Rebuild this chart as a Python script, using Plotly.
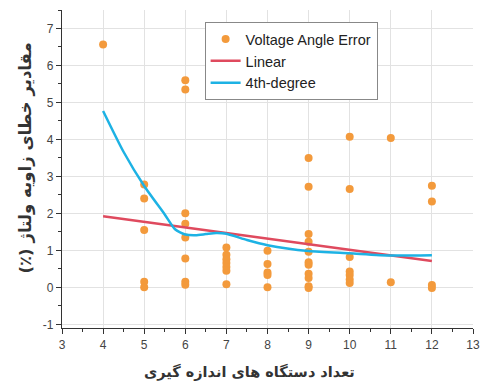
import plotly.graph_objects as go

# Measured voltage-angle errors (%) grouped by number of measuring devices
devices = [4, 5, 6, 7, 8, 9, 10, 11, 12]
errors = [
    [6.57],
    [2.78, 2.40, 1.55, 0.15, 0.0],
    [5.60, 5.35, 2.00, 1.72, 1.35, 0.78, 0.15, 0.07],
    [1.08, 0.88, 0.76, 0.66, 0.55, 0.45, 0.08],
    [0.99, 0.63, 0.40, 0.33, 0.0],
    [3.50, 2.72, 1.44, 1.23, 0.96, 0.68, 0.61, 0.37, 0.25, 0.03, -0.02],
    [4.07, 2.66, 0.82, 0.43, 0.33, 0.21, 0.12],
    [4.04, 0.14],
    [2.75, 2.32, 0.06, -0.02],
]

# Linear trend
lin_x = [4, 12]
lin_y = [1.92, 0.71]

# 4th-degree trend
poly_x = [4, 4.5, 5, 5.5, 5.75, 6, 6.25, 6.5, 6.75, 7, 7.5, 8, 9, 10, 11, 12]
poly_y = [4.77, 3.66, 2.74, 1.97, 1.57, 1.43, 1.41, 1.44, 1.47, 1.45, 1.28, 1.14, 0.98, 0.92, 0.86, 0.87]

y_ticks = [-1, 0, 1, 2, 3, 4, 5, 6, 7]
y_tick_text = ["-1", "0", "1", "2", "3", "4", "5", "6", "7"]
x_ticks = list(range(3, 14))

x_title = "تعداد دستگاه های اندازه گیری"
y_title = "(٪) مقادیر خطای زاویه ولتاژ"

pts_x = [d for d, vals in zip(devices, errors) for _ in vals]
pts_y = [v for vals in errors for v in vals]

fig = go.Figure()
fig.add_trace(go.Scatter(
    x=pts_x, y=pts_y, mode="markers", name="Voltage Angle Error",
    marker=dict(color="#F39A3C", size=8),
))
fig.add_trace(go.Scatter(
    x=lin_x, y=lin_y, mode="lines", name="Linear",
    line=dict(color="#DF4A5E", width=2.5),
))
fig.add_trace(go.Scatter(
    x=poly_x, y=poly_y, mode="lines", name="4th-degree",
    line=dict(color="#1DB2E4", width=2.5, shape="spline", smoothing=0.6),
))

axis_common = dict(
    showline=True, linecolor="#333", linewidth=1.3,
    ticks="outside", ticklen=5, tickcolor="#333", tickwidth=1,
    showgrid=True, gridcolor="#e2e2e2", gridwidth=1,
    zeroline=False,
    tickfont=dict(family="Liberation Sans, Arial, sans-serif", size=12, color="#444"),
    minor=dict(ticks="outside", ticklen=3, tickcolor="#333", dtick=0.5, showgrid=False),
)

title_font = dict(family="DejaVu Sans, sans-serif", color="#333")

fig.update_layout(
    width=487, height=385,
    margin=dict(l=62, r=7, t=10, b=57),
    plot_bgcolor="white", paper_bgcolor="white",
    font=dict(family="Liberation Sans, DejaVu Sans, sans-serif", color="#333"),
    xaxis=dict(range=[3, 13], tickvals=x_ticks, **axis_common),
    yaxis=dict(range=[-1.1, 7.5], tickvals=y_ticks, ticktext=y_tick_text, **axis_common),
    legend=dict(
        x=0.347, y=0.962, xanchor="left", yanchor="top",
        bgcolor="white", bordercolor="#888", borderwidth=1,
        font=dict(family="Liberation Sans, Arial, sans-serif", size=14.5, color="#222"),
        tracegroupgap=0, itemwidth=30,
    ),
    showlegend=True,
    annotations=[
        dict(text="<b>" + x_title + "</b>", xref="paper", yref="paper",
             x=0.457, y=-0.137, xanchor="center", yanchor="middle",
             showarrow=False, font=dict(size=14.5, **title_font)),
        dict(text="<b>" + y_title + "</b>", xref="paper", yref="paper",
             x=-0.0885, y=0.535, xanchor="center", yanchor="middle",
             textangle=-90, showarrow=False, font=dict(size=16.5, **title_font)),
    ],
)

fig.write_html("out.html")
